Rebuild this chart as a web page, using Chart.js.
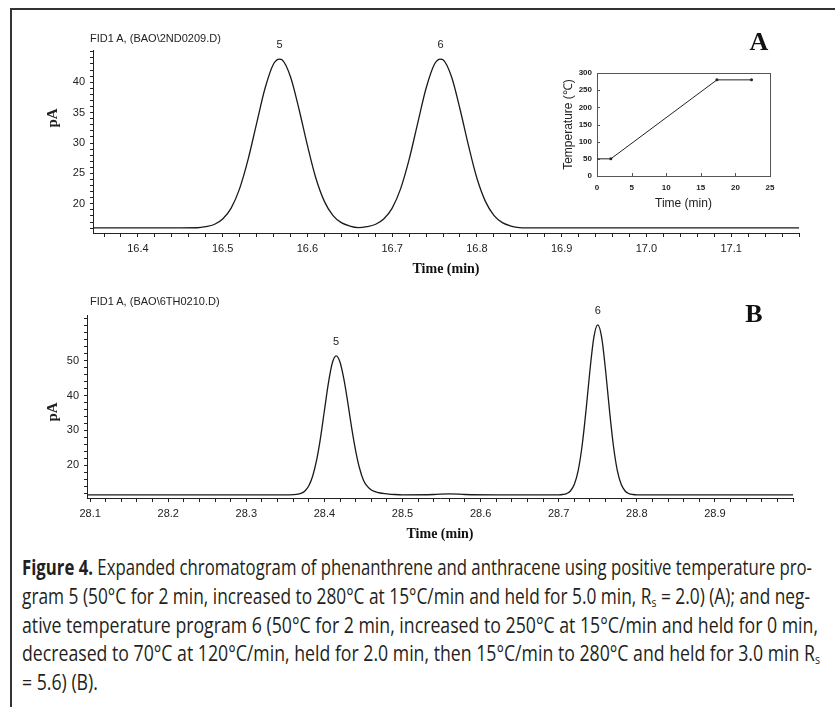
<!DOCTYPE html>
<html>
<head>
<meta charset="utf-8">
<script src="https://cdn.jsdelivr.net/npm/chart.js@4.4.0/dist/chart.umd.min.js"></script>
<style>
  html, body { margin: 0; padding: 0; background: #fff; }
  body { width: 835px; height: 707px; position: relative; overflow: hidden; font-family: "Liberation Sans", Arial, sans-serif; color: #222; }
  .frame { position: absolute; left: 10px; top: 8px; width: 900px; height: 800px; border-top: 2px solid #333; border-left: 2px solid #333; }
  canvas { position: absolute; }
  .lbl { position: absolute; line-height: 1; white-space: nowrap; transform: translate(-50%, -50%); }
  .fid { position: absolute; font-size: 11px; line-height: 1; white-space: nowrap; transform: translateY(-50%); }
  .panel { font: bold 26px "Liberation Serif", "Times New Roman", serif; color: #111; }
  .ylab { font: bold 15px "Liberation Serif", "Times New Roman", serif; transform: translate(-50%, -50%) rotate(-90deg); }
  .caption { position: absolute; left: 22px; top: 552px; font-family: "Open Sans", "DejaVu Sans Condensed", sans-serif; font-size: 22px; color: #231f20; }
  .caption .line { height: 28.8px; line-height: 28.8px; white-space: nowrap; }
  .caption .line span { display: inline-block; transform-origin: left center; }
  .caption sub { font-size: 0.6em; vertical-align: -0.25em; line-height: 0; }
</style>
</head>
<body>
<div class="frame"></div>

<canvas id="chartA" width="780" height="250" style="left:40px; top:30px;"></canvas>
<canvas id="chartB" width="780" height="250" style="left:35px; top:295px;"></canvas>
<canvas id="inset" width="230" height="155" style="left:555px; top:63px;"></canvas>

<div class="fid" style="left:90px; top:38px;">FID1 A, (BAO\2ND0209.D)</div>
<div class="fid" style="left:90px; top:301px;">FID1 A, (BAO\6TH0210.D)</div>
<div class="lbl panel" style="left:759px; top:42px;">A</div>
<div class="lbl panel" style="left:754px; top:314px;">B</div>
<div class="lbl ylab" style="left:52px; top:118px;">pA</div>
<div class="lbl ylab" style="left:52px; top:412px;">pA</div>

<div class="caption" id="caption">
  <div class="line"><span><b>Figure 4.</b> Expanded chromatogram of phenanthrene and anthracene using positive temperature pro-</span></div>
  <div class="line"><span>gram 5 (50°C for 2 min, increased to 280°C at 15°C/min and held for 5.0 min, R<sub>s</sub> = 2.0) (A); and neg-</span></div>
  <div class="line"><span>ative temperature program 6 (50°C for 2 min, increased to 250°C at 15°C/min and held for 0 min,</span></div>
  <div class="line"><span>decreased to 70°C at 120°C/min, held for 2.0 min, then 15°C/min to 280°C and held for 3.0 min R<sub>s</sub></span></div>
  <div class="line"><span>= 5.6) (B).</span></div>
</div>

<script>
// --- Panel A: positive temperature program 5 ---
const timesA = [16.347, 16.40, 16.45, 16.47, 16.48, 16.49, 16.50, 16.51, 16.52, 16.53, 16.54, 16.55, 16.56, 16.567,
  16.57, 16.58, 16.59, 16.60, 16.61, 16.62, 16.63, 16.64, 16.65, 16.66, 16.67, 16.68, 16.69, 16.70, 16.71, 16.72,
  16.73, 16.74, 16.75, 16.757, 16.76, 16.77, 16.78, 16.79, 16.80, 16.81, 16.82, 16.83, 16.84, 16.85, 16.87, 16.95,
  17.05, 17.18];
const signalA = [16.05, 16.05, 16.05, 16.06, 16.24, 16.6, 17.5, 19.3, 22.5, 27.3, 33.2, 39.0, 43.0, 43.8,
  43.7, 40.9, 35.6, 29.6, 24.2, 20.4, 18.1, 16.9, 16.35, 16.1, 16.24, 16.6, 17.5, 19.3, 22.5, 27.3,
  33.2, 39.0, 43.0, 43.8, 43.7, 40.9, 35.6, 29.6, 24.2, 20.4, 18.1, 16.9, 16.35, 16.1, 16.05, 16.05,
  16.05, 16.05];
const xLabelsA = [16.4, 16.5, 16.6, 16.7, 16.8, 16.9, 17.0, 17.1];
const yLabelsA = [20, 25, 30, 35, 40];
const peakTimesA = [16.567, 16.757];
const peakNamesA = ['5', '6'];

// --- Panel B: negative temperature program 6 ---
const timesB = [28.096, 28.20, 28.30, 28.35, 28.36, 28.37, 28.375, 28.38, 28.385, 28.39, 28.395, 28.40, 28.405,
  28.41, 28.415, 28.42, 28.425, 28.43, 28.435, 28.44, 28.445, 28.45, 28.455, 28.46, 28.47, 28.48, 28.49, 28.50,
  28.54, 28.56, 28.58, 28.62, 28.69, 28.70, 28.705, 28.71, 28.715, 28.72, 28.725, 28.73, 28.735, 28.74, 28.745,
  28.75, 28.755, 28.76, 28.765, 28.77, 28.775, 28.78, 28.785, 28.79, 28.795, 28.80, 28.85, 28.92, 29.0];
const signalB = [11.6, 11.6, 11.6, 11.6, 11.65, 12.0, 12.7, 14.2, 17.0, 21.5, 27.9, 35.7, 43.4,
  49.2, 51.3, 49.5, 44.6, 37.9, 30.6, 24.2, 19.2, 15.8, 14.0, 13.0, 12.2, 11.9, 11.7, 11.6,
  11.7, 11.9, 11.7, 11.6, 11.6, 11.6, 11.7, 11.95, 12.7, 14.6, 18.6, 25.7, 35.8, 47.2, 56.6,
  60.2, 56.6, 47.2, 35.8, 25.7, 18.6, 14.6, 12.7, 11.95, 11.7, 11.6, 11.6, 11.6, 11.6];
const xLabelsB = [28.1, 28.2, 28.3, 28.4, 28.5, 28.6, 28.7, 28.8, 28.9];
const yLabelsB = [20, 30, 40, 50];
const peakTimesB = [28.415, 28.75];
const peakNamesB = ['5', '6'];

// --- Inset: oven temperature program ---
const programTimes = [0, 2, 17.33, 22.33];
const programTemps = [50, 50, 280, 280];

Chart.defaults.font.family = '"Liberation Sans", Arial, sans-serif';
Chart.defaults.color = '#222';

const near = (a, b) => Math.abs(a - b) < 1e-6;

// peak numbers above each peak
const peakLabels = {
  id: 'peakLabels',
  afterDatasetsDraw(chart, args, opts) {
    const { ctx, scales: { x, y } } = chart;
    const pts = chart.data.datasets[0].data;
    ctx.save();
    ctx.font = '11px "Liberation Sans", Arial, sans-serif';
    ctx.fillStyle = '#222';
    ctx.textAlign = 'center';
    ctx.textBaseline = 'middle';
    opts.times.forEach((t, i) => {
      const p = pts.find(d => near(d.x, t));
      ctx.fillText(opts.names[i], x.getPixelForValue(t), y.getPixelForValue(p.y) - 14);
    });
    ctx.restore();
  }
};

// boxed frame with small inward ticks for the inset
const boxFrame = {
  id: 'boxFrame',
  beforeDatasetsDraw(chart) {
    const { ctx, chartArea: a, scales: { x, y } } = chart;
    ctx.save();
    ctx.strokeStyle = '#555';
    ctx.lineWidth = 1;
    ctx.strokeRect(Math.round(a.left) + 0.5, Math.round(a.top) + 0.5, Math.round(a.width), Math.round(a.height));
    ctx.beginPath();
    x.ticks.forEach(t => {
      const px = Math.round(x.getPixelForValue(t.value)) + 0.5;
      ctx.moveTo(px, a.bottom); ctx.lineTo(px, a.bottom - 3);
    });
    y.ticks.forEach(t => {
      const py = Math.round(y.getPixelForValue(t.value)) + 0.5;
      ctx.moveTo(a.left, py); ctx.lineTo(a.left + 3, py);
    });
    ctx.stroke();
    ctx.restore();
  }
};

function chromatogram(id, times, signal, opt) {
  return new Chart(document.getElementById(id), {
    type: 'line',
    data: {
      datasets: [{
        data: times.map((t, i) => ({ x: t, y: signal[i] })),
        borderColor: '#1a1a1a',
        borderWidth: 1.3,
        pointRadius: 0,
        cubicInterpolationMode: 'monotone',
        fill: false
      }]
    },
    options: {
      responsive: false,
      animation: false,
      events: [],
      layout: { padding: { top: 20, right: opt.padRight, left: 0, bottom: 0 } },
      plugins: {
        legend: { display: false },
        tooltip: { enabled: false },
        peakLabels: { times: opt.peakTimes, names: opt.peakNames }
      },
      scales: {
        x: {
          type: 'linear',
          min: opt.xMin, max: opt.xMax,
          afterFit: s => { s.height = 47; },
          border: { color: '#222', width: 1 },
          grid: { drawOnChartArea: false, tickLength: 4, color: '#222' },
          ticks: {
            stepSize: 0.02, includeBounds: false, autoSkip: false, maxRotation: 0, maxTicksLimit: 200,
            padding: 5, font: { size: 11 },
            callback: v => opt.xLabels.some(l => Math.abs(l - v) < 1e-4) ? v.toFixed(1) : ''
          },
          title: {
            display: true, text: 'Time (min)', color: '#111',
            font: { family: '"Liberation Serif", "Times New Roman", serif', size: 14, weight: 'bold' },
            padding: { top: 0, bottom: 2 }
          }
        },
        y: {
          min: opt.yMin, max: opt.yMax,
          afterFit: s => { s.width = opt.yWidth; },
          border: { color: '#222', width: 1 },
          grid: { drawOnChartArea: false, tickLength: 3, color: '#222' },
          ticks: {
            stepSize: opt.yStep, includeBounds: false, autoSkip: false, maxTicksLimit: 200,
            padding: 5, font: { size: 11 },
            callback: v => opt.yLabels.some(l => Math.abs(l - v) < 1e-6) ? String(Math.round(v)) : ''
          }
        }
      }
    },
    plugins: [peakLabels]
  });
}

chromatogram('chartA', timesA, signalA, {
  xMin: 16.347, xMax: 17.18, yMin: 15.2, yMax: 45.3, yStep: 1,
  xLabels: xLabelsA, yLabels: yLabelsA, peakTimes: peakTimesA, peakNames: peakNamesA,
  padRight: 21, yWidth: 53
});

chromatogram('chartB', timesB, signalB, {
  xMin: 28.096, xMax: 29.0, yMin: 10.7, yMax: 63, yStep: 2,
  xLabels: xLabelsB, yLabels: yLabelsB, peakTimes: peakTimesB, peakNames: peakNamesB,
  padRight: 22, yWidth: 52
});

new Chart(document.getElementById('inset'), {
  type: 'line',
  data: {
    datasets: [{
      data: programTimes.map((t, i) => ({ x: t, y: programTemps[i] })),
      borderColor: '#222',
      borderWidth: 1,
      pointRadius: [0, 1.5, 1.5, 1.5],
      pointBackgroundColor: '#222',
      pointBorderWidth: 0,
      tension: 0
    }]
  },
  options: {
    responsive: false,
    animation: false,
    events: [],
    layout: { padding: { top: 10, right: 15, left: 0, bottom: 0 } },
    plugins: { legend: { display: false }, tooltip: { enabled: false } },
    scales: {
      x: {
        type: 'linear', min: 0, max: 25,
        afterFit: s => { s.height = 42; },
        border: { display: false },
        grid: { display: false, drawTicks: false },
        ticks: { stepSize: 5, padding: 7, font: { size: 8, weight: 'bold' } },
        title: { display: true, text: 'Time (min)', font: { size: 12 }, padding: { top: 0, bottom: 7 } }
      },
      y: {
        min: 0, max: 300,
        afterFit: s => { s.width = 42; },
        border: { display: false },
        grid: { display: false, drawTicks: false },
        ticks: { stepSize: 50, padding: 5, font: { size: 8, weight: 'bold' } },
        title: { display: true, text: 'Temperature (℃)', font: { size: 12 }, padding: { top: 6, bottom: 0 } }
      }
    }
  },
  plugins: [boxFrame]
});

// --- stretch caption lines to the justified widths of the original ---
const lineWidths = [790, 788, 796, 798];
const spans = document.querySelectorAll('#caption .line span');
let lastScale = 1;
spans.forEach((sp, i) => {
  const w = sp.getBoundingClientRect().width;
  const s = i < lineWidths.length ? lineWidths[i] / w : lastScale;
  sp.style.transform = `scaleX(${s})`;
  lastScale = s;
});
</script>
</body>
</html>
